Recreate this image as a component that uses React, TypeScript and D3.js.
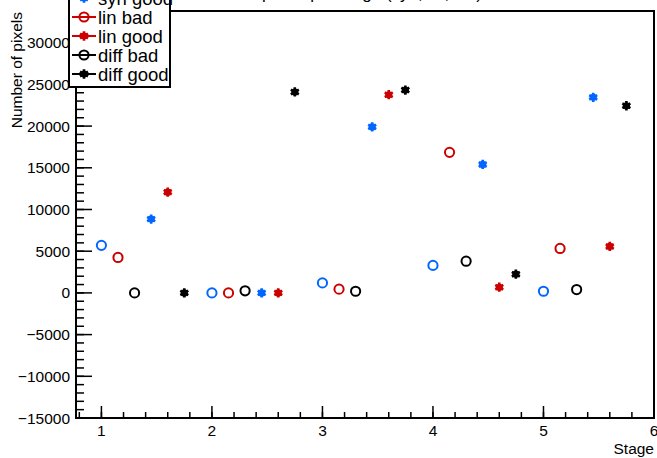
import React from "react";
import * as d3 from "d3";

const stages = [1, 2, 3, 4, 5];
const synBad = [5700, 0, 1200, 3300, 200];
const linBad = [4250, 0, 450, 16850, 5330];
const diffBad = [0, 250, 200, 3800, 400];
const synGood = [8850, 0, 19900, 15400, 23450];
const linGood = [12080, 0, 23760, 680, 5570];
const diffGood = [0, 24090, 24320, 2240, 22440];
const yTicks = [-15000, -10000, -5000, 0, 5000, 10000, 15000, 20000, 25000, 30000];
const xTicks = [1, 2, 3, 4, 5, 6];

const BLUE = "#0066ff";
const RED = "#cc0000";
const BLACK = "#000000";

type Series = { name: string; values: number[]; offset: number; color: string; open: boolean };
const series: Series[] = [
  { name: "syn bad", values: synBad, offset: 0, color: BLUE, open: true },
  { name: "syn good", values: synGood, offset: 0.45, color: BLUE, open: false },
  { name: "lin bad", values: linBad, offset: 0.15, color: RED, open: true },
  { name: "lin good", values: linGood, offset: 0.6, color: RED, open: false },
  { name: "diff bad", values: diffBad, offset: 0.3, color: BLACK, open: true },
  { name: "diff good", values: diffGood, offset: 0.75, color: BLACK, open: false },
];

const W = 657, H = 458;
const L = 76, R = 654, T = 11, B = 418;
const FONT = "'Liberation Sans', Arial, Helvetica, sans-serif";

function Marker({ x, y, color, open }: { x: number; y: number; color: string; open: boolean }) {
  if (open) {
    return <circle cx={x} cy={y} r={4.6} fill="none" stroke={color} strokeWidth={2} />;
  }
  const star = d3.symbol().type(d3.symbolAsterisk).size(60)();
  return (
    <g transform={`translate(${x},${y})`}>
      <circle r={3.6} fill={color} />
      <path d={star || ""} fill="none" stroke={color} strokeWidth={2.6} />
    </g>
  );
}

export default function App() {
  const x = d3.scaleLinear().domain([0.77, 6.0]).range([L, R]);
  const y = d3.scaleLinear().domain([-15000, 33800]).range([B, T]);
  const xMinor = d3.range(0.8, 6.001, 0.2).map((v) => Math.round(v * 10) / 10);
  const yMinor = d3.range(-15000, 33001, 1000);

  const legendX0 = 69, legendX1 = 170;
  const legendY = [-21, -2, 17, 36, 55, 74];

  return (
    <svg width={W} height={H} style={{ position: "fixed", left: 0, top: 0, background: "#fff" }} fontFamily={FONT}>
      <rect x={0} y={0} width={W} height={H} fill="#fff" />
      {/* title (mostly off-canvas) */}
      <text x={330} y={-1} fontSize={17} textAnchor="middle">Number of pixels per stage (syn, lin, diff)</text>
      {/* frame */}
      <rect x={L} y={T} width={R - L} height={B - T} fill="none" stroke="#000" strokeWidth={2} />
      {/* x ticks */}
      {xMinor.map((v) => (
        <line key={"xm" + v} x1={x(v)} x2={x(v)} y1={B} y2={B - 6} stroke="#000" strokeWidth={1.5} />
      ))}
      {xTicks.map((v) => (
        <g key={"xt" + v}>
          <line x1={x(v)} x2={x(v)} y1={B} y2={B - 12} stroke="#000" strokeWidth={1.5} />
          <text x={x(v)} y={436} fontSize={15.5} textAnchor="middle">{v}</text>
        </g>
      ))}
      {/* y ticks */}
      {yMinor.map((v) => (
        <line key={"ym" + v} x1={L} x2={L + 8} y1={y(v)} y2={y(v)} stroke="#000" strokeWidth={1.5} />
      ))}
      {yTicks.map((v) => (
        <g key={"yt" + v}>
          <line x1={L} x2={L + 16} y1={y(v)} y2={y(v)} stroke="#000" strokeWidth={1.5} />
          <text x={70} y={y(v) + 5.5} fontSize={15.5} textAnchor="end">{v < 0 ? "\u2212" + Math.abs(v) : v}</text>
        </g>
      ))}
      {/* axis titles */}
      <text x={654} y={454} fontSize={15.5} textAnchor="end">Stage</text>
      <text transform="translate(22,12) rotate(-90)" fontSize={15.5} textAnchor="end">Number of pixels</text>
      {/* points */}
      {series.map((s) =>
        s.values.map((v, i) => (
          <Marker key={s.name + i} x={x(stages[i] + s.offset)} y={y(v)} color={s.color} open={s.open} />
        ))
      )}
      {/* legend */}
      <rect x={legendX0} y={-40} width={legendX1 - legendX0} height={87 + 40} fill="#fff" stroke="#000" strokeWidth={2} />
      {series.map((s, i) => (
        <g key={"lg" + s.name}>
          <line x1={72} x2={96} y1={legendY[i]} y2={legendY[i]} stroke={s.color} strokeWidth={2} />
          <Marker x={84} y={legendY[i]} color={s.color} open={s.open} />
          <text x={98} y={legendY[i] + 6.5} fontSize={18.5}>{s.name}</text>
        </g>
      ))}
    </svg>
  );
}
